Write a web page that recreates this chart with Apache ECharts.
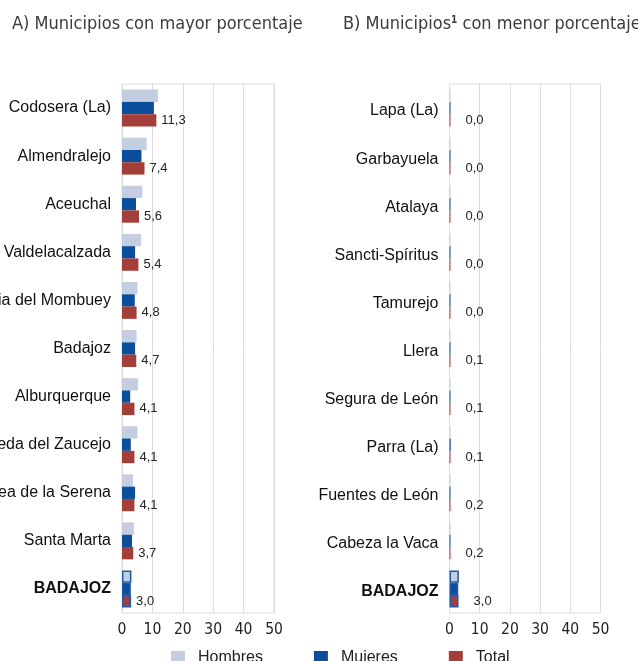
<!DOCTYPE html>
<html>
<head>
<meta charset="utf-8">
<script src="https://cdn.jsdelivr.net/npm/echarts@6/dist/echarts.min.js"></script>
<style>
  html, body { margin: 0; padding: 0; background: #fff; }
  #main { width: 638px; height: 661px; }
</style>
</head>
<body>
<div id="main"></div>
<script>
// A) municipios con mayor porcentaje
var leftNames = ['Codosera (La)', 'Almendralejo', 'Aceuchal', 'Valdelacalzada', 'Valencia del Mombuey',
  'Badajoz', 'Alburquerque', 'Peraleda del Zaucejo', 'Zalamea de la Serena', 'Santa Marta', 'BADAJOZ'];
var leftHombres = [11.8, 8.1, 6.7, 6.3, 5.1, 4.8, 5.3, 5.1, 3.6, 3.9, 3.1];
var leftMujeres = [10.5, 6.4, 4.6, 4.3, 4.2, 4.3, 2.7, 2.9, 4.3, 3.3, 2.9];
var leftTotal = [11.3, 7.4, 5.6, 5.4, 4.8, 4.7, 4.1, 4.1, 4.1, 3.7, 3.0];

// B) municipios con menor porcentaje
var rightNames = ['Lapa (La)', 'Garbayuela', 'Atalaya', 'Sancti-Spíritus', 'Tamurejo', 'Llera',
  'Segura de León', 'Parra (La)', 'Fuentes de León', 'Cabeza la Vaca', 'BADAJOZ'];
var rightHombres = [0.0, 0.0, 0.0, 0.0, 0.0, 0.1, 0.1, 0.0, 0.1, 0.1, 3.1];
var rightMujeres = [0.1, 0.1, 0.1, 0.1, 0.1, 0.2, 0.2, 0.4, 0.3, 0.3, 2.9];
var rightTotal = [0.0, 0.0, 0.0, 0.0, 0.0, 0.1, 0.1, 0.1, 0.2, 0.2, 3.0];

// eje x
var xMin = 0;
var xMax = 50;
var xStep = 10;

var colors = ['#c5cde0', '#0b4f9c', '#a33e38'];
var gridLine = '#dcdcdc';
var narrowFont = "'Liberation Sans Narrow', 'DejaVu Sans Condensed', 'Roboto Condensed', Roboto, sans-serif";

// la fila de la provincia lleva borde azul
function withBorder(values, names) {
  return values.map(function (v, i) {
    if (names[i] === 'BADAJOZ') {
      return { value: v, itemStyle: { borderColor: '#1f5ba8', borderWidth: 1.5 } };
    }
    return v;
  });
}

function fmt(p) {
  return p.value.toFixed(1).replace('.', ',');
}

function xAxisFor(idx) {
  return {
    type: 'value',
    gridIndex: idx,
    min: xMin,
    max: xMax,
    interval: xStep,
    axisLine: { show: false },
    axisTick: { show: false },
    splitLine: { lineStyle: { color: gridLine, width: 1 } },
    axisLabel: { color: '#222', fontSize: 15.5, fontFamily: narrowFont, margin: 9 }
  };
}

function yAxisFor(idx, names, pad) {
  return {
    type: 'category',
    gridIndex: idx,
    data: names,
    inverse: true,
    axisLine: { show: false },
    axisTick: { show: false },
    axisLabel: {
      margin: 11,
      padding: [pad, 0, 0, 0],
      color: '#111',
      fontSize: 16,
      fontFamily: 'Liberation Sans',
      formatter: function (v) {
        return v === 'BADAJOZ' ? '{b|' + v + '}' : v;
      },
      rich: { b: { fontWeight: 'bold', fontSize: 16, fontFamily: 'Liberation Sans', color: '#111' } }
    }
  };
}

function barSeries(name, idx, values, names, color, labelDist) {
  var s = {
    name: name,
    type: 'bar',
    xAxisIndex: idx,
    yAxisIndex: idx,
    data: withBorder(values, names),
    barWidth: 12.3,
    barGap: '0%',
    barMinHeight: 1,
    itemStyle: { color: color },
    emphasis: { disabled: true }
  };
  if (labelDist !== undefined) {
    s.label = {
      show: true,
      position: 'right',
      distance: labelDist,
      formatter: fmt,
      color: '#222',
      fontSize: 13,
      fontFamily: 'Liberation Sans'
    };
  }
  return s;
}

var chart = echarts.init(document.getElementById('main'), null, { renderer: 'canvas' });

var titleStyle = { color: '#3c3c3c', fontSize: 18, fontWeight: 'normal', fontFamily: narrowFont };

var option = {
  backgroundColor: '#ffffff',
  animation: false,
  title: [{
    text: 'A) Municipios con mayor porcentaje',
    left: 12,
    top: 15,
    padding: 0,
    textStyle: titleStyle
  }, {
    text: '{a|B) Municipios}{s|1}{a| con menor porcentaje}',
    left: 343,
    top: 15,
    padding: 0,
    textStyle: {
      rich: {
        a: titleStyle,
        s: { color: '#3c3c3c', fontSize: 10, fontFamily: narrowFont, verticalAlign: 'top', padding: [0, 0, 7, 0] }
      }
    }
  }],
  legend: {
    data: ['Hombres', 'Mujeres', 'Total'],
    left: 171,
    top: 650,
    padding: 0,
    itemWidth: 14,
    itemHeight: 14,
    itemGap: 51,
    icon: 'rect',
    selectedMode: false,
    textStyle: { color: '#222', fontSize: 16, fontFamily: 'Liberation Sans', padding: [0, 0, 0, 8] }
  },
  grid: [
    { left: 122, width: 152, top: 84, bottom: 48, outerBoundsMode: 'none', containLabel: false,
      show: true, borderColor: gridLine, borderWidth: 1 },
    { left: 449.5, width: 151, top: 84, bottom: 48, outerBoundsMode: 'none', containLabel: false,
      show: true, borderColor: gridLine, borderWidth: 1 }
  ],
  xAxis: [xAxisFor(0), xAxisFor(1)],
  yAxis: [yAxisFor(0, leftNames, 0), yAxisFor(1, rightNames, 6)],
  series: [
    barSeries('Hombres', 0, leftHombres, leftNames, colors[0]),
    barSeries('Mujeres', 0, leftMujeres, leftNames, colors[1]),
    barSeries('Total', 0, leftTotal, leftNames, colors[2], 5),
    barSeries('Hombres', 1, rightHombres, rightNames, colors[0]),
    barSeries('Mujeres', 1, rightMujeres, rightNames, colors[1]),
    barSeries('Total', 1, rightTotal, rightNames, colors[2], 15)
  ]
};

chart.setOption(option);
</script>
</body>
</html>
